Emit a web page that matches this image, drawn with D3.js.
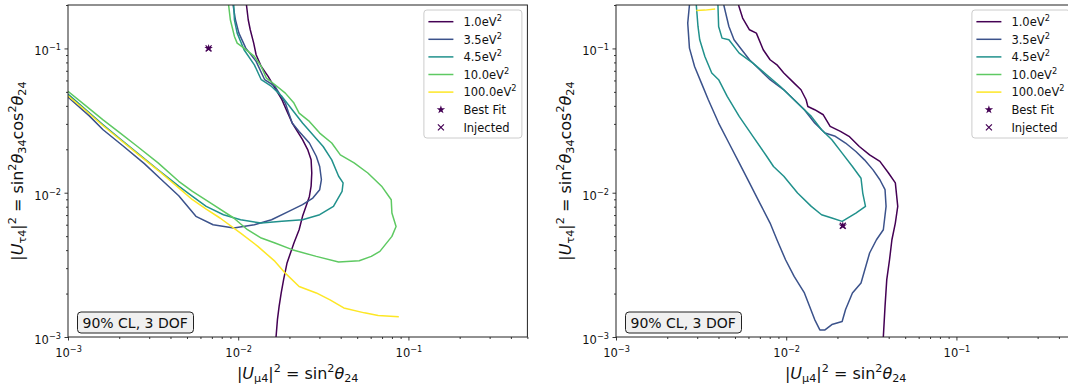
<!DOCTYPE html>
<html><head><meta charset="utf-8">
<script src="https://cdn.jsdelivr.net/npm/d3@7"></script>
<style>
html,body{margin:0;padding:0;background:#fff;}
svg{display:block;font-family:"DejaVu Sans",sans-serif;}
</style></head>
<body>
<svg id="chart" width="1068" height="392"></svg>
<script>
// ---------------- DATA ----------------
const massLabels = ["1.0", "3.5", "4.5", "10.0", "100.0"];
const massColors = ["#440154", "#3b528b", "#21918c", "#5ec962", "#fde725"];
const xTickValues = [1e-3, 1e-2, 1e-1];
const xTickExp = ["\u22123", "\u22122", "\u22121"];
const yTickValues = [1e-3, 1e-2, 1e-1];
const yTickExp = ["\u22123", "\u22122", "\u22121"];
const annotationText = "90% CL, 3 DOF";

// Left panel contours [|U_mu4|^2, |U_tau4|^2]
const left_1p0 = [[1.118e-2,0.2],[1.145e-2,0.158],[1.177e-2,0.1347],[1.233e-2,0.1089],[1.274e-2,0.0904],[1.366e-2,0.075],[1.499e-2,0.064],[1.645e-2,0.0531],[1.806e-2,0.0441],[1.936e-2,0.0366],[2.076e-2,0.0304],[2.226e-2,0.0266],[2.387e-2,0.0233],[2.559e-2,0.0199],[2.681e-2,0.0169],[2.705e-2,0.0137],[2.681e-2,0.0111],[2.619e-2,0.00943],[2.50e-2,0.00804],[2.387e-2,0.00686],[2.279e-2,0.00554],[2.125e-2,0.00448],[2.028e-2,0.00382],[1.936e-2,0.00326],[1.848e-2,0.0025],[1.789e-2,0.00202],[1.739e-2,0.00163],[1.70e-2,0.00132],[1.668e-2,0.001]];
const left_3p5 = [[9.33e-3,0.2],[9.63e-3,0.158],[1.009e-2,0.1277],[1.108e-2,0.1005],[1.274e-2,0.0813],[1.431e-2,0.0607],[1.645e-2,0.0545],[1.891e-2,0.0418],[1.982e-2,0.0356],[2.076e-2,0.0304],[2.279e-2,0.0266],[2.619e-2,0.0221],[2.875e-2,0.0179],[3.011e-2,0.0152],[3.082e-2,0.0123],[3.011e-2,0.0105],[2.744e-2,0.00918],[2.387e-2,0.00826],[1.982e-2,0.00743],[1.570e-2,0.0065],[1.244e-2,0.006],[9.41e-3,0.00569],[7.12e-3,0.006],[5.643e-3,0.00686],[4.472e-3,0.00953],[3.544e-3,0.0123],[2.809e-3,0.0159],[2.125e-3,0.0209],[1.607e-3,0.0273],[1.334e-3,0.0341],[1e-3,0.046]];
const left_4p5 = [[9.41e-3,0.2],[9.50e-3,0.158],[9.86e-3,0.1277],[1.082e-2,0.0979],[1.244e-2,0.077],[1.366e-2,0.0607],[1.570e-2,0.0545],[1.806e-2,0.0465],[2.076e-2,0.0376],[2.387e-2,0.0304],[2.744e-2,0.0252],[3.155e-2,0.0209],[3.544e-2,0.0169],[3.89e-2,0.013],[4.132e-2,0.0117],[4.075e-2,0.0102],[3.627e-2,0.00804],[3.011e-2,0.00704],[2.387e-2,0.0065],[1.806e-2,0.00633],[1.366e-2,0.00616],[1.033e-2,0.0065],[8.19e-3,0.00704],[6.486e-3,0.00804],[5.386e-3,0.00943],[4.472e-3,0.0111],[3.382e-3,0.0144],[2.559e-3,0.0188],[2.028e-3,0.0235],[1.607e-3,0.0296],[1.274e-3,0.0376],[1e-3,0.0482]];
const left_10p0 = [[1e-3,0.0504],[1.274e-3,0.04],[1.607e-3,0.032],[2.028e-3,0.0259],[2.559e-3,0.0209],[3.382e-3,0.0161],[4.472e-3,0.012],[5.386e-3,0.0102],[7.12e-3,0.00826],[9.41e-3,0.00668],[1.134e-2,0.00554],[1.366e-2,0.00485],[1.645e-2,0.00448],[2.076e-2,0.00403],[2.875e-2,0.00362],[3.89e-2,0.00331],[5.14e-2,0.00338],[6.05e-2,0.00362],[6.797e-2,0.00392],[7.998e-2,0.00498],[8.46e-2,0.00584],[7.998e-2,0.00723],[7.925e-2,0.00894],[6.957e-2,0.0111],[5.775e-2,0.0137],[4.796e-2,0.0161],[3.98e-2,0.0183],[3.544e-2,0.0221],[3.011e-2,0.0259],[2.619e-2,0.0312],[2.279e-2,0.0356],[2.125e-2,0.0418],[1.891e-2,0.049],[1.645e-2,0.056],[1.464e-2,0.0623],[1.366e-2,0.075],[1.244e-2,0.088],[1.082e-2,0.1005],[9.86e-3,0.1089],[9.50e-3,0.1211],[8.99e-3,0.158],[8.78e-3,0.2]];
const left_100p0 = [[1e-3,0.047],[1.274e-3,0.037],[1.607e-3,0.0291],[2.028e-3,0.0233],[2.559e-3,0.0186],[3.382e-3,0.0143],[4.472e-3,0.0108],[5.386e-3,0.00894],[6.486e-3,0.0077],[7.815e-3,0.00668],[1.033e-2,0.00525],[1.304e-2,0.00425],[1.645e-2,0.00334],[1.891e-2,0.00277],[2.279e-2,0.00224],[2.875e-2,0.00202],[3.463e-2,0.00181],[4.17e-2,0.00159],[5.513e-2,0.00147],[6.64e-2,0.00141],[8.78e-2,0.00138]];

// Right panel contours
const right_1p0 = [[5.245e-3,0.2],[5.546e-3,0.1623],[6.085e-3,0.1347],[6.677e-3,0.1277],[7.327e-3,0.0979],[8.04e-3,0.0835],[8.82e-3,0.077],[9.68e-3,0.0675],[1.113e-2,0.0575],[1.221e-2,0.0517],[1.309e-2,0.0441],[1.34e-2,0.0396],[1.47e-2,0.0376],[1.651e-2,0.0347],[1.812e-2,0.0288],[2.082e-2,0.0266],[2.339e-2,0.0246],[2.688e-2,0.0209],[3.09e-2,0.0183],[3.551e-2,0.0165],[3.99e-2,0.0137],[4.376e-2,0.0117],[4.521e-2,0.00804],[4.376e-2,0.00616],[4.178e-2,0.00472],[4.046e-2,0.00343],[3.897e-2,0.0025],[3.807e-2,0.00163],[3.72e-2,0.001]];
const right_3p5 = [[2.701e-3,0.2],[2.639e-3,0.1498],[2.701e-3,0.1005],[2.895e-3,0.075],[3.177e-3,0.0575],[3.486e-3,0.0441],[4.008e-3,0.0304],[4.606e-3,0.0221],[5.294e-3,0.0161],[6.085e-3,0.0117],[6.995e-3,0.00848],[8.04e-3,0.00616],[8.82e-3,0.00472],[9.91e-3,0.00343],[1.113e-2,0.00263],[1.279e-2,0.00202],[1.47e-2,0.00132],[1.576e-2,0.00112],[1.69e-2,0.00112],[1.854e-2,0.00122],[2.131e-2,0.00128],[2.232e-2,0.00155],[2.449e-2,0.00202],[2.751e-2,0.00237],[3.09e-2,0.00382],[3.39e-2,0.00472],[3.72e-2,0.00554],[3.861e-2,0.00804],[3.807e-2,0.0105],[3.551e-2,0.0123],[3.236e-2,0.0144],[2.882e-2,0.0169],[2.566e-2,0.0193],[2.232e-2,0.0221],[1.942e-2,0.0246],[1.69e-2,0.0259],[1.47e-2,0.0304],[1.279e-2,0.0376],[1.113e-2,0.0441],[9.68e-3,0.0517],[8.04e-3,0.0607],[6.995e-3,0.0711],[6.085e-3,0.0835],[5.294e-3,0.1032],[4.937e-3,0.1148],[4.606e-3,0.142],[4.297e-3,0.2]];
const right_4p5 = [[2.963e-3,0.2],[3.032e-3,0.142],[3.104e-3,0.1148],[3.327e-3,0.088],[3.652e-3,0.0675],[4.008e-3,0.0607],[4.501e-3,0.0465],[5.294e-3,0.0338],[6.374e-3,0.0246],[7.675e-3,0.0179],[8.42e-3,0.0152],[9.68e-3,0.013],[1.166e-2,0.00995],[1.404e-2,0.00804],[1.613e-2,0.00704],[1.854e-2,0.00668],[2.131e-2,0.00633],[2.566e-2,0.00723],[2.922e-2,0.00804],[2.816e-2,0.00995],[2.751e-2,0.0126],[2.449e-2,0.0152],[2.131e-2,0.0188],[1.854e-2,0.0233],[1.613e-2,0.0273],[1.404e-2,0.0338],[1.221e-2,0.0396],[1.062e-2,0.0465],[9.24e-3,0.0545],[7.675e-3,0.0657],[6.374e-3,0.0791],[5.294e-3,0.0928],[4.606e-3,0.1148],[4.198e-3,0.1179],[4.008e-3,0.142],[3.971e-3,0.2]];
const right_10p0 = [];
const right_100p0 = [[2.963e-3,0.1834],[3.327e-3,0.1843],[3.825e-3,0.1873]];

// Best fit / injected points
const leftBestFit = [6.70e-3, 0.1];
const leftInjected = [6.70e-3, 0.1];
const rightBestFit = [2.15e-2, 0.0059];
const rightInjected = [2.15e-2, 0.0059];

// ---------------- DRAW ----------------
const svg = d3.select("#chart");
const FONT = "DejaVu Sans";
const panels = [
  {x0: 68, contours: [left_1p0, left_3p5, left_4p5, left_10p0, left_100p0], best: leftBestFit, inj: leftInjected},
  {x0: 616, contours: [right_1p0, right_3p5, right_4p5, right_10p0, right_100p0], best: rightBestFit, inj: rightInjected}
];
const plotW = 459.4, yTop = 5, yBot = 337;

function rich(textSel, parts, fs) {
  let cur = 0;
  parts.forEach(p => {
    const target = p.sup ? -0.42 * fs : (p.sub ? 0.2 * fs : 0);
    const ts = textSel.append("tspan").attr("dy", target - cur).text(p.t);
    cur = target;
    if (p.sup || p.sub) ts.attr("font-size", fs * 0.7);
    if (p.it) ts.attr("font-style", "italic");
  });
}

const starPath = d3.symbol().type(d3.symbolStar).size(22)();
const crossPath = "M-3,-3L3,3M-3,3L3,-3";

panels.forEach((P, pi) => {
  const x = d3.scaleLog().domain([1e-3, 0.5]).range([P.x0, P.x0 + plotW]);
  const y = d3.scaleLog().domain([1e-3, 0.2]).range([yBot, yTop]);
  const g = svg.append("g");
  const clipId = "clip" + pi;
  svg.append("clipPath").attr("id", clipId).append("rect")
    .attr("x", P.x0).attr("y", yTop).attr("width", plotW).attr("height", yBot - yTop);

  const line = d3.line().x(d => x(d[0])).y(d => y(d[1]));
  const cg = g.append("g").attr("clip-path", `url(#${clipId})`);
  P.contours.forEach((c, i) => {
    if (!c.length) return;
    cg.append("path").attr("d", line(c)).attr("fill", "none")
      .attr("stroke", massColors[i]).attr("stroke-width", 1.5)
      .attr("stroke-linejoin", "round");
  });
  cg.append("path").attr("d", starPath)
    .attr("transform", `translate(${x(P.best[0])},${y(P.best[1])})`)
    .attr("fill", "#440154");
  cg.append("path").attr("d", crossPath)
    .attr("transform", `translate(${x(P.inj[0])},${y(P.inj[1])})`)
    .attr("stroke", "#440154").attr("stroke-width", 1.2).attr("fill", "none");

  // minor ticks
  const xMinor = [], yMinor = [];
  [1e-3, 1e-2, 1e-1].forEach(d => { for (let k = 2; k <= 9; k++) { const v = d * k; if (v <= 0.5) xMinor.push(v); if (v <= 0.2) yMinor.push(v); } });
  g.append("g").attr("transform", `translate(0,${yBot})`)
    .call(d3.axisBottom(x).tickValues(xMinor).tickSize(2).tickFormat(""))
    .call(a => a.select(".domain").remove());
  g.append("g").attr("transform", `translate(${P.x0},0)`)
    .call(d3.axisLeft(y).tickValues(yMinor).tickSize(2).tickFormat(""))
    .call(a => a.select(".domain").remove());

  const xa = g.append("g").attr("transform", `translate(0,${yBot})`)
    .call(d3.axisBottom(x).tickValues(xTickValues).tickSize(3.5).tickPadding(3.5).tickFormat(""));
  xa.select(".domain").remove();
  xa.selectAll(".tick").each(function(d, i) {
    const t = d3.select(this).select("text").attr("y", null).attr("dy", null)
      .attr("font-family", FONT).attr("font-size", 11.5).attr("fill", "#111").attr("text-anchor", "middle")
      .attr("x", 0).attr("y", 19.5);
    t.append("tspan").text("10");
    t.append("tspan").attr("font-size", 8.2).attr("dy", -5).text(xTickExp[i]);
  });
  const ya = g.append("g").attr("transform", `translate(${P.x0},0)`)
    .call(d3.axisLeft(y).tickValues(yTickValues).tickSize(3.5).tickPadding(3.5).tickFormat(""));
  ya.select(".domain").remove();
  ya.selectAll(".tick").each(function(d, i) {
    const t = d3.select(this).select("text").attr("dy", null)
      .attr("font-family", FONT).attr("font-size", 11.5).attr("fill", "#111").attr("text-anchor", "end")
      .attr("x", -7).attr("y", 6.5);
    t.append("tspan").text("10");
    t.append("tspan").attr("font-size", 8.2).attr("dy", -5).text(yTickExp[i]);
  });
  g.selectAll(".tick line").attr("stroke", "#222").attr("stroke-width", 0.9);

  // frame
  g.append("rect").attr("x", P.x0).attr("y", yTop).attr("width", plotW).attr("height", yBot - yTop)
    .attr("fill", "none").attr("stroke", "#222").attr("stroke-width", 1);

  // axis labels
  const xl = g.append("text").attr("x", P.x0 + plotW / 2).attr("y", 379)
    .attr("text-anchor", "middle").attr("font-family", FONT).attr("font-size", 16).attr("fill", "#111");
  rich(xl, [{t: "|"}, {t: "U", it: true}, {t: "\u03bc4", sub: true}, {t: "|"}, {t: "2", sup: true}, {t: " = sin"}, {t: "2", sup: true}, {t: "\u03b8", it: true}, {t: "24", sub: true}], 16);
  const yl = g.append("text").attr("transform", `translate(${P.x0 - 45.5},${(yTop + yBot) / 2}) rotate(-90)`)
    .attr("text-anchor", "middle").attr("font-family", FONT).attr("font-size", 16).attr("fill", "#111");
  rich(yl, [{t: "|"}, {t: "U", it: true}, {t: "\u03c44", sub: true}, {t: "|"}, {t: "2", sup: true}, {t: " = sin"}, {t: "2", sup: true}, {t: "\u03b8", it: true}, {t: "34", sub: true}, {t: "cos"}, {t: "2", sup: true}, {t: "\u03b8", it: true}, {t: "24", sub: true}], 16);

  // annotation box
  const ax = P.x0 + 9.5;
  g.append("rect").attr("x", ax).attr("y", 312).attr("width", 116).attr("height", 21).attr("rx", 3.5)
    .attr("fill", "#f0f0f0").attr("stroke", "#222").attr("stroke-width", 1);
  g.append("text").attr("x", ax + 5).attr("y", 327.5).attr("font-family", FONT).attr("font-size", 14)
    .attr("fill", "#111").text(annotationText);

  // legend
  const lx = P.x0 + plotW - 103.5;
  const lg = g.append("g");
  lg.append("rect").attr("x", lx).attr("y", 10).attr("width", 98).attr("height", 128).attr("rx", 3)
    .attr("fill", "white").attr("fill-opacity", 0.8).attr("stroke", "#cccccc").attr("stroke-width", 1);
  const rowY = i => 21.7 + i * 17.6;
  massLabels.forEach((m, i) => {
    lg.append("line").attr("x1", lx + 4.5).attr("x2", lx + 29.5).attr("y1", rowY(i)).attr("y2", rowY(i))
      .attr("stroke", massColors[i]).attr("stroke-width", 1.5);
    const t = lg.append("text").attr("x", lx + 39.5).attr("y", rowY(i) + 4.2).attr("font-family", FONT)
      .attr("font-size", 11.5).attr("fill", "#111");
    t.append("tspan").text(m + "eV");
    t.append("tspan").attr("font-size", 8.2).attr("dy", -5).text("2");
  });
  lg.append("path").attr("d", starPath).attr("transform", `translate(${lx + 17},${rowY(5)})`).attr("fill", "#440154");
  lg.append("text").attr("x", lx + 39.5).attr("y", rowY(5) + 4.2).attr("font-family", FONT)
    .attr("font-size", 11.5).attr("fill", "#111").text("Best Fit");
  lg.append("path").attr("d", crossPath).attr("transform", `translate(${lx + 17},${rowY(6)})`)
    .attr("stroke", "#440154").attr("stroke-width", 1.2).attr("fill", "none");
  lg.append("text").attr("x", lx + 39.5).attr("y", rowY(6) + 4.2).attr("font-family", FONT)
    .attr("font-size", 11.5).attr("fill", "#111").text("Injected");
});
</script>
</body></html>
